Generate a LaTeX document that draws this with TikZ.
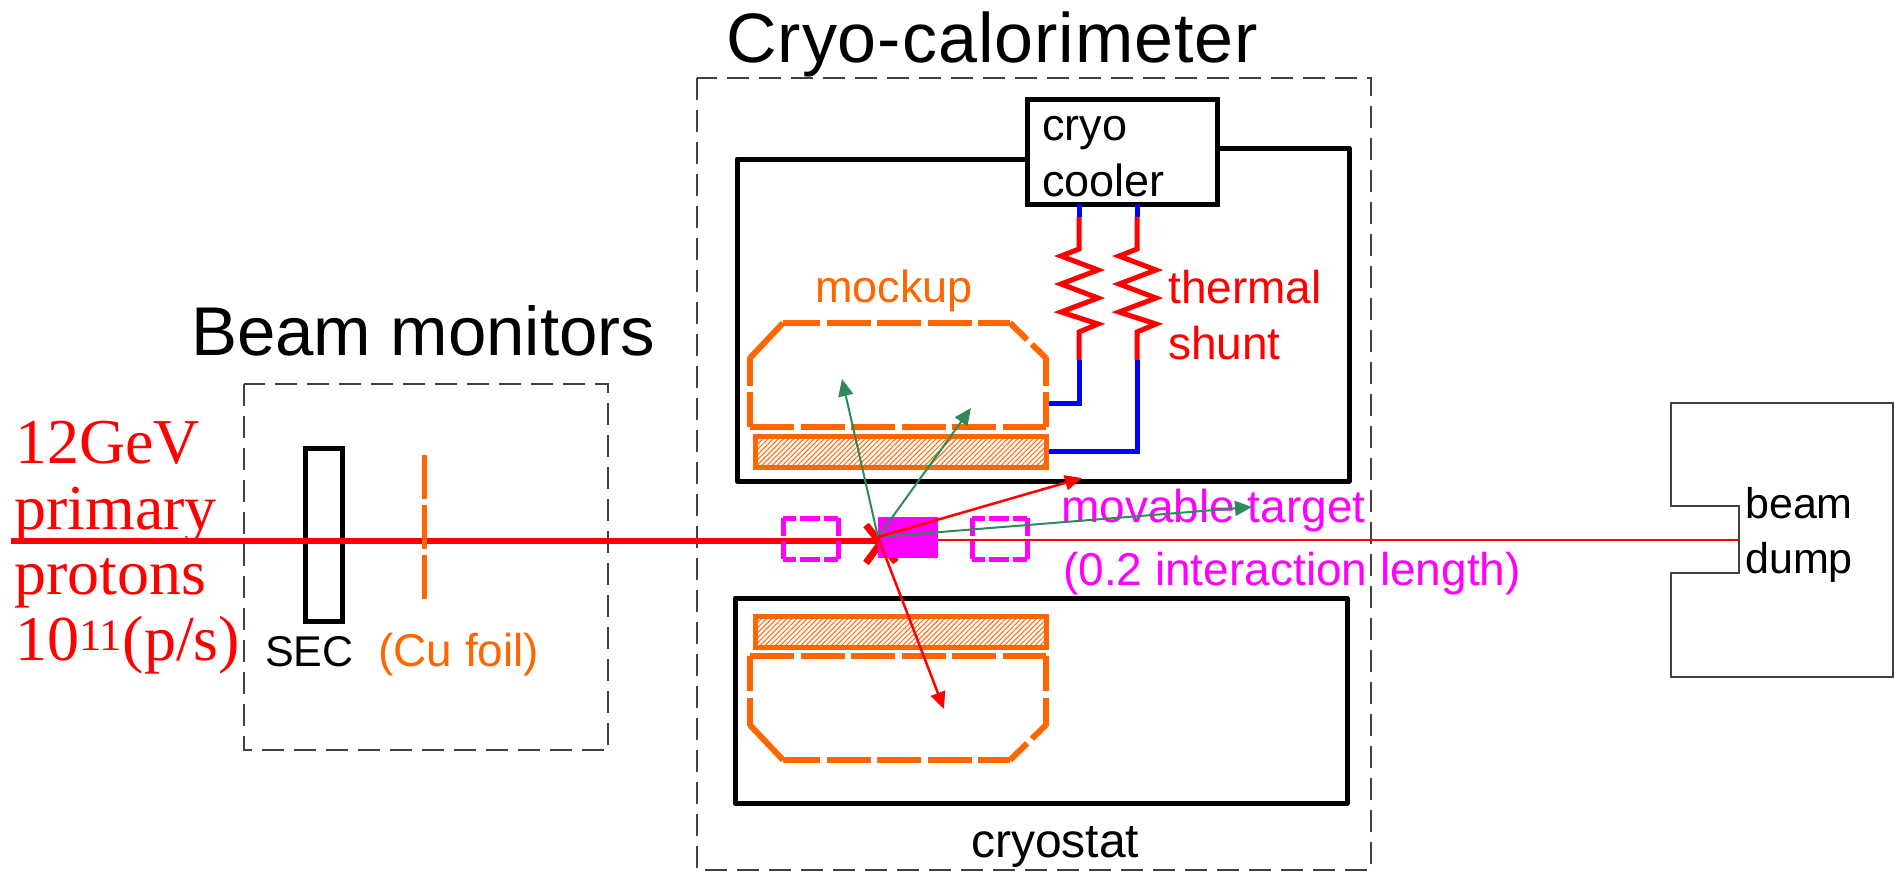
\documentclass[tikz,border=0pt]{standalone}
\usepackage{fontspec}
\setmainfont{Liberation Sans}
\newfontfamily\redfont{Liberation Serif}
\usetikzlibrary{arrows.meta,patterns.meta}
\definecolor{mockorange}{HTML}{FF6600}
\definecolor{trackgreen}{HTML}{2E8B57}
\definecolor{boxgray}{HTML}{404040}
\definecolor{targetpink}{HTML}{FF00FF}
\definecolor{beamred}{HTML}{FF0000}
\definecolor{coldblue}{HTML}{0000FF}
\tikzset{
  monitorbox/.style={draw=boxgray, line width=2pt, dash pattern=on 22pt off 10pt},
  vessel/.style={draw=black, line width=5pt, line join=round},
  mockline/.style={draw=mockorange, line width=6pt, dash pattern=on 44pt off 6.5pt},
  coldline/.style={draw=coldblue, line width=5pt},
  shuntline/.style={draw=beamred, line width=5pt},
  targetline/.style={draw=targetpink, line width=5pt},
  redtrack/.style={draw=beamred, line width=2.5pt, -{Triangle[length=17pt,width=15pt]}},
  greentrack/.style={draw=trackgreen, line width=2pt, -{Triangle[length=17pt,width=15pt]}},
  label/.style={anchor=base west, inner sep=0pt, font=\fontsize{#1}{#1}\selectfont},
  protonlabel/.style={anchor=base west, inner sep=0pt, text=beamred, font=\redfont\fontsize{64}{64}\selectfont},
  mockup/.pic={
    \draw[mockline, dash phase=0pt] (750,427) -- (1046,427);
    \draw[mockline, dash phase=7pt] (783,323) -- (1010,323);
    \draw[mockline, dash phase=9pt] (750,427) -- (750,357);
    \draw[mockline, dash phase=9pt] (1046,427) -- (1046,357);
    \draw[mockline, solid] (750,358) -- (783,323);
    \draw[mockline, dash phase=20pt] (1010,323) -- (1046,358);
    \draw[draw=mockorange, line width=5pt, pattern={Lines[angle=45,distance=3.6pt,line width=1pt]}, pattern color=mockorange] (755,436) rectangle (1046,467);
  },
  movebox/.pic={
    \draw[targetline, dash pattern=on 20pt off 4pt, dash phase=7pt] (0,0) -- (55,0) (0,41) -- (55,41);
    \draw[targetline, dash pattern=on 18pt off 5pt] (0,0) -- (0,41) (55,0) -- (55,41);
  }
}
\begin{document}
\begin{tikzpicture}[x=1pt,y=-1pt]
  \useasboundingbox (0,0) rectangle (1896,871);
  % Titles
  \node[label=70] (calotitle) at (726,62) {\addfontfeature{LetterSpace=1.4}Cryo-calorimeter};
  \node[label=69] (montitle) at (191,355) {Beam monitors};
  % Dashed frames
  \draw[monitorbox] (243.5,384) rectangle (608,750);
  \draw[monitorbox] (696.5,78) rectangle (1370.5,870);
  % Beam monitors
  \draw[draw=black, line width=5pt] (305.5,448) rectangle (342,621);
  \node[label=43] (sec) at (265,666) {SEC};
  \node[label=46, text=mockorange] (foillabel) at (378,666) {(Cu foil)};
  % Beam line
  \coordinate (beamin) at (11,541);
  \coordinate (beamtgt) at (880,541);
  \coordinate (beamout) at (878,540);
  \draw[draw=beamred, line width=6pt] (beamin) -- (beamtgt);
  \draw[draw=beamred, line width=2pt] (beamout) -- (1739,540);
  \draw[mockline, line width=5pt, dash pattern=on 44pt off 6pt] (424,455) -- (424,600);
  % Cryostat
  \draw[vessel] (1026,159) -- (737,159) -- (737,481) -- (1349,481) -- (1349,148) -- (1219,148);
  \draw[vessel] (735,598) rectangle (1347,803);
  \node[label=48] (cryostat) at (971,857) {cryostat};
  % Cooler and shunts
  \node[draw=black, line width=5pt, fill=white, minimum width=190pt, minimum height=105pt, anchor=north west, inner sep=0pt, outer sep=0pt] (cooler) at (1027.5,99.5) {};
  \node[label=45] (coolertext) at (1042,140) {cryo};
  \node[label=45] (coolertextb) at (1042,196) {cooler};
  \foreach \sx/\sy in {1079/403,1137/451}{
    \draw[coldline] (\sx,204) -- (\sx,217);
    \draw[shuntline, line join=miter] (\sx,217) -- (\sx,249) -- ++(-18,7) -- ++(37,14) -- ++(-37,14) -- ++(37,14) -- ++(-37,14) -- ++(37,12) -- (\sx,332) -- (\sx,360);
    \draw[coldline] (\sx,360) -- (\sx,\sy) -- (1049,\sy);
  }
  \node[label=46, text=beamred] (thermal) at (1168,303) {thermal};
  \node[label=46, text=beamred] (shunt) at (1168,359) {shunt};
  % Mockups
  \pic at (0,0) {mockup};
  \pic[yscale=-1] at (0,1083) {mockup};
  \node[label=45, text=mockorange] (mocklabel) at (815,302) {mockup};
  % Target
  \pic at (783,518) {movebox};
  \pic at (972,518) {movebox};
  \draw[draw=beamred, line width=7pt] (866,525) -- (896,562) (866,563) -- (896,522);
  \fill[targetpink] (878,517) rectangle (938,558);
  \node[label=46, text=targetpink] (targetlabel) at (1061,522) {movable target};
  \node[label=46, text=targetpink] (targetlabelb) at (1063,585) {(0.2 interaction length)};
  % Tracks
  \coordinate (vertex) at (878,537);
  \coordinate (tipa) at (1082,478);
  \coordinate (tipb) at (944,709);
  \coordinate (tipc) at (842,379);
  \coordinate (tipd) at (971,408);
  \coordinate (tipe) at (1252,507);
  \draw[greentrack] (vertex) -- (tipc);
  \draw[greentrack] (vertex) -- (tipd);
  \draw[greentrack] (vertex) -- (tipe);
  \draw[redtrack] (vertex) -- (tipa);
  \draw[redtrack] (vertex) -- (tipb);
  % Beam dump
  \draw[draw=boxgray, line width=2pt] (1670.5,403) -- (1893,403) -- (1893,677) -- (1670.5,677) -- (1670.5,573) -- (1739,573) -- (1739,506) -- (1670.5,506) -- cycle;
  \node[label=43] (dumptext) at (1745,518) {beam};
  \node[label=43] (dumptextb) at (1745,573) {dump};
  % Proton label
  \node[protonlabel] (beama) at (15,463) {12GeV};
  \node[protonlabel] (beamb) at (14,529) {primary};
  \node[protonlabel] (beamc) at (14,594) {protons};
  \node[protonlabel] (beamd) at (15,660) {10\textsuperscript{11}(p/s)};
\end{tikzpicture}
\end{document}
